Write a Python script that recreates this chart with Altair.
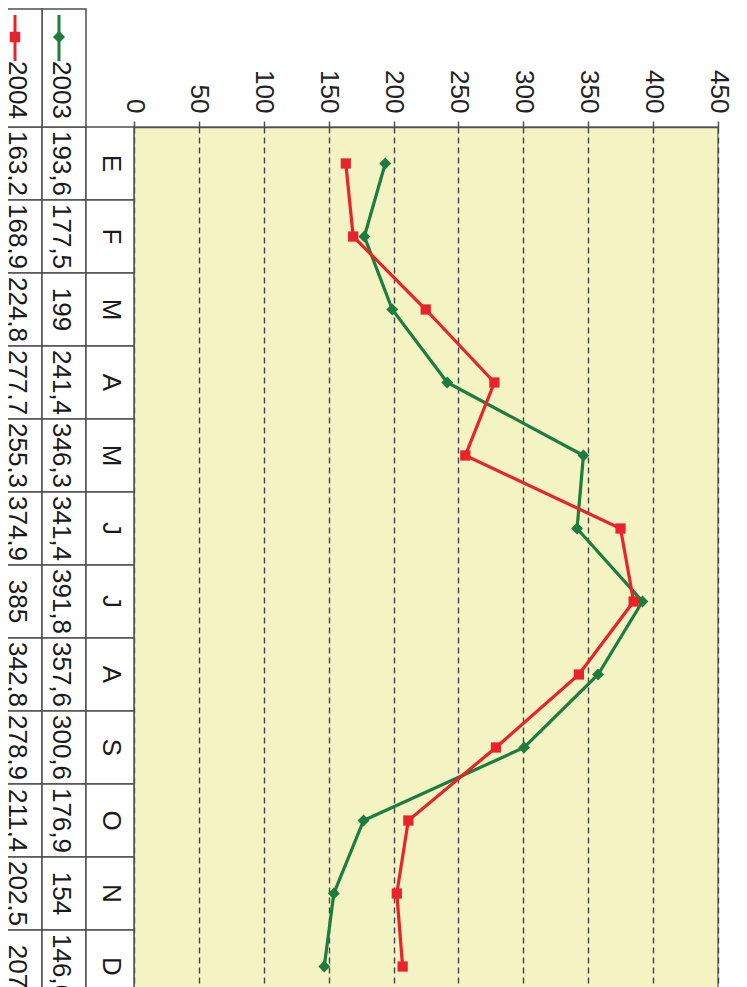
import altair as alt
import pandas as pd

months = ["E", "F", "M", "A", "M", "J", "J", "A", "S", "O", "N", "D"]
v2003 = [193.6, 177.5, 199, 241.4, 346.3, 341.4, 391.8, 357.6, 300.6, 176.9, 154, 146.6]
v2004 = [163.2, 168.9, 224.8, 277.7, 255.3, 374.9, 385, 342.8, 278.9, 211.4, 202.5, 207]
series = ["2003", "2004"]
colors = ["#1c7d3c", "#e8232b"]
shapes = ["diamond", "square"]
ticks = [0, 50, 100, 150, 200, 250, 300, 350, 400, 450]


def fmt(v):
    return f"{v:g}".replace(".", ",")


rows = []
for i, m in enumerate(months):
    for s, vals in zip(series, [v2003, v2004]):
        rows.append({"idx": i, "month": m, "series": s, "value": vals[i], "label": fmt(vals[i])})
df = pd.DataFrame(rows)
mdf = pd.DataFrame({"idx": list(range(len(months))), "month": months})

FONT = "Liberation Sans"
FS = 26
LINE = "#505050"

Y = alt.Y("idx:O", scale=alt.Scale(type="band", domain=list(range(len(months))),
                                     paddingInner=0, paddingOuter=0), axis=None)
colour = alt.Color("series:N", scale=alt.Scale(domain=series, range=colors), legend=None)
shape = alt.Shape("series:N", scale=alt.Scale(domain=series, range=shapes), legend=None)
size = alt.Size("series:N", scale=alt.Scale(domain=series, range=[140, 105]), legend=None)
X = alt.X("value:Q", scale=alt.Scale(domain=[0, 450], nice=False, zero=True),
          axis=alt.Axis(orient="top", values=ticks, title=None, labelAngle=90,
                        labelAlign="right", labelBaseline="middle", labelPadding=8,
                        labelFont=FONT, labelFontSize=FS, labelColor="#222222",
                        tickSize=6, tickColor=LINE, tickWidth=1.5,
                        domainColor=LINE, domainWidth=1.5,
                        grid=True, gridDash=[6, 4], gridColor="#444444", gridWidth=1.4))

layers = []

# table cells (columns: 2004, 2003, month)
col_edges = {"2004": (-140, -92), "2003": (-92, -48), "month": (-48, 0)}
for key, (a, b) in col_edges.items():
    layers.append(alt.Chart(mdf).mark_rect(fill="white", stroke=LINE, strokeWidth=1.5)
                  .encode(y=Y, x=alt.value(a), x2=alt.value(b)))

# header cells with legend keys
col_center = {"2003": -73, "2004": -117}
key_x = {"2003": -75, "2004": -119}
key_size = {"2003": 150, "2004": 110}
for s, c, shp in zip(series, colors, shapes):
    a, b = col_edges[s]
    hdf = pd.DataFrame({"series": [s]})
    layers.append(alt.Chart(hdf).mark_rect(fill="white", stroke=LINE, strokeWidth=1.5)
                  .encode(x=alt.value(a), x2=alt.value(b), y=alt.value(-118), y2=alt.value(0)))
    layers.append(alt.Chart(hdf).mark_rule(color=c, strokeWidth=3)
                  .encode(x=alt.value(key_x[s]), y=alt.value(-112), y2=alt.value(-66)))
    layers.append(alt.Chart(hdf).mark_point(shape=shp, filled=True, opacity=1, color=c,
                                            size=key_size[s])
                  .encode(x=alt.value(key_x[s]), y=alt.value(-90)))
    layers.append(alt.Chart(hdf).mark_text(angle=90, align="center", baseline="middle",
                                           font=FONT, fontSize=FS, color="#1a1a1a")
                  .encode(x=alt.value(col_center[s]), y=alt.value(-37), text="series:N"))

# table values
for s in series:
    layers.append(alt.Chart(df).transform_filter(alt.datum.series == s)
                  .mark_text(angle=90, align="center", baseline="middle",
                             font=FONT, fontSize=FS, color="#1a1a1a")
                  .encode(y=Y, x=alt.value(col_center[s]), text="label:N"))

# month labels
layers.append(alt.Chart(mdf).mark_text(angle=90, align="center", baseline="middle",
                                       font=FONT, fontSize=FS, color="#1a1a1a")
              .encode(y=Y, x=alt.value(-23), text="month:N"))

# data lines and markers
layers.append(alt.Chart(df).mark_line(strokeWidth=3.2)
              .encode(x=X, y=Y, color=colour, detail="series:N", order="idx:O"))
layers.append(alt.Chart(df).mark_point(filled=True, opacity=1)
              .encode(x=alt.X("value:Q"), y=Y, color=colour, shape=shape, size=size))

chart = (alt.layer(*layers)
         .properties(width=584, height=876,
                     padding={"left": 126, "top": 119, "right": 13, "bottom": 4},
                     autosize=alt.AutoSizeParams(type="none"))
         .configure_view(fill="#f3f3c4", stroke="#777777", strokeWidth=1.5))

chart.save("out.html", embed_options={"renderer": "svg", "actions": False})
